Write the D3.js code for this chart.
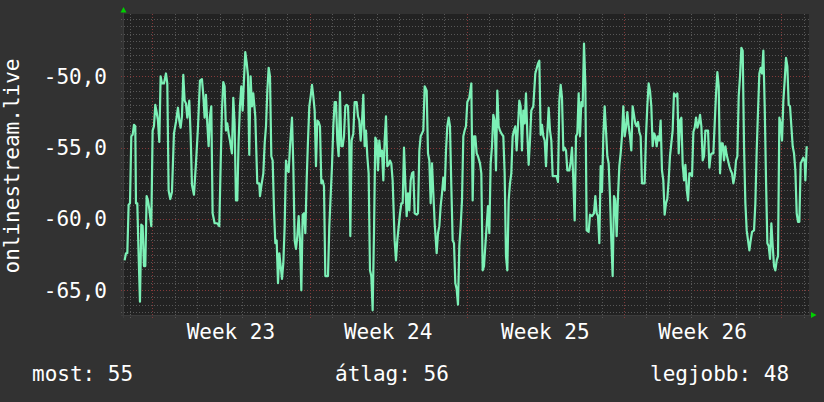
<!DOCTYPE html>
<html><head><meta charset="utf-8">
<script src="https://cdn.jsdelivr.net/npm/d3@7"></script>
<style>html,body{margin:0;padding:0;background:#323232;overflow:hidden}</style>
</head><body><svg id="c" width="824" height="402"></svg>
<script>
// hours since Monday 00:00 of week 23, signal level
const readings = [
[-29.56,-62.9],[-28.14,-62.4],[-26.71,-62.4],[-25.29,-59.0],[-23.86,-58.9],[-22.44,-54.2],[-21.01,-54.1],[-19.59,-53.4],[-18.17,-53.5],[-17.45,-58.9],[-16.03,-58.9],[-14.60,-62.6],[-13.18,-65.8],[-11.76,-60.4],[-10.33,-60.5],[-8.91,-63.3],[-7.48,-63.3],[-6.06,-58.4],[-4.63,-58.7],[-3.21,-59.3],[-1.07,-60.5],[0.35,-53.8],[1.78,-53.5],[3.20,-52.0],[4.62,-52.5],[6.05,-53.1],[7.47,-54.6],[8.90,-50.0],[10.32,-50.5],[12.46,-50.5],[14.60,-49.8],[16.02,-50.5],[17.44,-58.0],[19.22,-58.6],[21.01,-58.1],[23.14,-54.0],[25.28,-53.2],[27.41,-52.2],[28.84,-53.1],[30.26,-53.6],[31.69,-52.8],[33.11,-49.9],[34.54,-51.7],[35.96,-51.9],[37.39,-52.9],[39.52,-51.7],[40.95,-54.1],[42.37,-57.6],[44.51,-58.3],[46.64,-56.1],[48.78,-53.6],[50.92,-50.3],[53.05,-50.2],[54.48,-51.3],[55.90,-52.9],[57.33,-51.3],[58.75,-53.3],[60.18,-54.9],[61.60,-52.8],[63.02,-52.1],[64.45,-59.6],[66.59,-60.3],[69.43,-60.3],[71.57,-60.5],[73.00,-56.3],[74.42,-52.4],[75.84,-50.4],[77.27,-50.7],[78.69,-53.8],[80.12,-53.3],[81.54,-54.0],[82.97,-54.5],[85.10,-55.4],[86.53,-51.5],[87.95,-53.3],[89.38,-58.7],[90.80,-58.7],[92.23,-54.5],[93.65,-52.1],[95.07,-50.7],[96.50,-52.4],[97.92,-50.3],[99.35,-48.3],[100.77,-49.0],[102.20,-49.9],[103.62,-55.5],[105.04,-50.0],[106.47,-52.1],[107.89,-51.2],[110.03,-52.8],[112.17,-57.5],[114.30,-57.5],
[115.08,-58.4],[116.50,-57.7],[118.64,-56.8],[120.07,-54.7],[121.49,-53.5],[122.91,-51.0],[124.34,-49.4],[125.76,-50.0],[127.19,-55.6],[128.61,-55.9],[130.04,-59.4],[131.46,-61.7],[132.89,-61.5],[134.31,-64.5],[135.73,-62.4],[137.16,-63.3],[138.58,-64.2],[140.01,-63.1],[141.43,-60.5],[142.86,-55.9],[144.28,-56.6],[145.70,-56.7],[147.13,-54.9],[149.27,-52.9],[150.69,-56.3],[152.11,-61.5],[153.54,-62.1],[154.96,-61.2],[156.39,-59.8],[157.81,-61.5],[159.24,-65.0],[160.66,-59.7],[162.09,-59.6],[163.51,-61.0],[164.93,-57.3],[166.36,-54.5],[167.78,-52.1],[169.21,-51.4],[170.63,-50.6],[172.06,-51.4],[173.48,-52.4],[174.90,-56.3],[176.33,-53.1],[177.75,-53.2],[179.18,-53.5],[180.60,-57.5],[182.03,-57.3],[183.45,-57.7],[184.88,-64.0],[187.72,-64.0],[189.15,-60.5],[190.57,-58.4],[192.00,-56.3],[193.42,-53.5],[194.85,-51.8],[196.27,-51.8],[197.70,-54.5],[199.12,-55.6],[200.54,-51.1],[201.97,-54.9],[203.39,-54.9],[204.82,-54.2],[206.24,-52.1],[207.67,-52.0],[209.09,-52.1],[210.51,-54.7],[211.58,-61.2],[213.01,-54.5],[214.79,-54.0],[216.21,-51.8],[218.35,-51.8],[219.77,-52.8],[221.20,-53.1],[222.62,-54.5],[224.05,-53.2],[225.47,-51.3],[226.90,-54.9],[228.32,-53.8],[229.74,-55.6],[231.17,-56.8],[232.59,-63.6],[234.02,-64.0],[235.44,-66.4],[236.87,-61.0],[238.29,-54.3],[239.72,-54.5],[241.14,-56.6],[242.56,-54.5],[243.99,-55.6],[245.41,-55.2],[246.84,-57.3],[248.26,-54.5],[249.69,-52.8],[251.11,-56.3],[252.53,-56.2],[253.96,-55.9],[255.38,-56.1],[256.81,-57.3],[258.94,-61.5],[260.37,-62.9],[261.79,-61.5],
[264.68,-59.6],[266.10,-58.9],[267.53,-58.9],[268.95,-55.0],[270.37,-57.5],[271.80,-59.8],[273.22,-58.2],[274.65,-59.4],[276.07,-57.3],[277.50,-56.8],[278.92,-56.7],[280.35,-59.6],[282.48,-59.7],[283.91,-59.6],[285.33,-55.2],[286.75,-54.2],[288.18,-54.0],[289.60,-53.8],[291.03,-50.7],[293.17,-51.0],[294.59,-55.4],[296.01,-55.9],[297.44,-58.9],[298.86,-56.1],[300.29,-58.2],[301.71,-60.3],[303.85,-62.4],[305.27,-61.0],[306.70,-60.5],[308.12,-59.1],[309.55,-58.2],[310.97,-57.1],[312.39,-58.0],[313.82,-55.2],[315.24,-53.5],[316.67,-52.9],[318.09,-53.5],[319.52,-57.7],[320.94,-61.5],[322.36,-61.7],[323.79,-64.5],[325.21,-64.9],[326.64,-66.0],[328.06,-61.9],[329.49,-60.5],[330.91,-58.7],[332.34,-54.2],[333.76,-53.8],[335.18,-53.5],[336.61,-51.8],[338.74,-51.5],[340.88,-50.5],[342.31,-58.7],[343.73,-54.2],[345.16,-54.2],[346.58,-55.4],[348.00,-55.6],[350.14,-56.1],[351.57,-56.8],[352.99,-63.6],[354.41,-63.3],[355.84,-61.9],[357.26,-60.5],[358.69,-59.1],[360.11,-61.0],[361.54,-56.1],[362.96,-54.9],[364.38,-52.7],[365.81,-53.1],[367.23,-56.6],[368.66,-51.0],[370.08,-53.5],[371.51,-53.8],[372.93,-54.0],[375.07,-54.2],[376.49,-56.8],[377.92,-62.6],[379.34,-63.6],[380.77,-58.7],[382.19,-57.5],[383.61,-56.8],[385.04,-54.2],[386.46,-53.8],[387.89,-53.5],[389.31,-55.2],[390.74,-53.5],[392.16,-51.7],[393.58,-52.1],[395.01,-55.2],[396.43,-52.4],[397.86,-53.3],[399.28,-51.2],[400.71,-54.0],[402.13,-56.2],[403.56,-54.5],[404.98,-52.4],[407.12,-52.1],[409.25,-49.8],
[412.14,-49.1],[413.56,-48.9],[414.99,-54.1],[416.41,-53.4],[417.83,-54.2],[419.26,-54.5],[420.68,-56.3],[422.11,-54.0],[423.53,-52.2],[424.96,-53.8],[426.38,-54.5],[427.81,-57.0],[429.94,-57.0],[432.08,-57.0],[433.50,-57.4],[434.93,-51.7],[436.35,-50.6],[437.78,-51.5],[439.20,-55.2],[440.62,-55.0],[442.05,-55.2],[443.47,-56.6],[445.61,-56.6],[447.03,-56.0],[448.46,-55.0],[449.88,-57.3],[451.31,-60.1],[452.73,-54.2],[454.16,-54.0],[455.58,-51.2],[457.01,-54.2],[458.43,-51.8],[459.85,-52.1],[461.28,-47.7],[462.70,-50.5],[464.13,-60.8],[466.26,-60.9],[467.69,-59.7],[469.82,-59.8],[471.96,-59.6],[473.39,-58.4],[474.81,-59.6],[476.23,-59.8],[477.66,-61.7],[479.08,-56.3],[480.51,-58.1],[481.93,-54.2],[483.36,-52.1],[484.78,-53.8],[486.21,-55.6],[487.63,-56.1],[489.05,-58.4],[490.48,-61.5],[491.90,-64.0],[493.33,-58.4],[494.75,-58.7],[496.18,-61.2],[497.60,-58.4],[499.03,-56.3],[500.45,-55.4],[501.87,-54.2],[503.30,-52.1],[504.72,-54.2],[506.15,-53.6],[507.57,-52.5],[509.00,-53.5],[510.42,-54.2],[511.84,-55.2],[513.27,-52.1],[514.69,-52.7],[516.12,-53.3],[517.54,-53.5],[518.97,-53.2],[520.39,-53.9],[521.82,-54.2],[523.24,-57.5],[526.09,-57.5],[527.51,-54.2],[528.94,-52.1],[530.36,-50.5],[531.79,-51.0],[533.21,-52.1],[534.64,-54.9],[536.06,-54.0],[537.48,-54.2],[538.91,-54.9],[540.33,-54.2],[541.76,-54.5],[543.18,-53.1],[544.61,-56.6],[546.03,-57.3],[547.45,-59.7],[548.88,-58.9],[550.30,-58.6],[551.73,-57.3],[553.15,-55.6],[554.58,-54.7],[556.00,-53.8],[557.42,-51.2],
[559.64,-51.4],[561.06,-51.2],[562.49,-55.4],[563.91,-53.1],[565.33,-52.9],[566.76,-56.2],[568.18,-57.3],[569.61,-56.2],[571.03,-57.9],[572.46,-58.7],[573.88,-56.8],[575.31,-56.8],[576.73,-57.0],[578.15,-53.9],[579.58,-53.6],[581.00,-52.9],[582.43,-53.6],[583.85,-53.3],[585.28,-52.7],[586.70,-53.5],[588.12,-55.9],[589.55,-55.6],[590.97,-53.8],[592.40,-53.8],[593.82,-53.8],[595.25,-56.4],[596.67,-55.5],[598.10,-55.4],[599.52,-55.4],[600.94,-53.3],[602.37,-51.2],[603.79,-49.7],[605.22,-50.7],[606.64,-56.8],[608.07,-54.7],[609.49,-54.7],[610.92,-55.9],[612.34,-54.9],[613.76,-55.5],[615.19,-55.9],[616.61,-56.3],[618.04,-56.6],[619.46,-56.8],[620.89,-57.5],[622.31,-57.0],[623.73,-55.9],[625.16,-55.6],[626.58,-51.4],[628.01,-50.0],[629.43,-48.0],[630.86,-48.2],[632.28,-54.9],[633.71,-58.9],[635.13,-60.8],[636.55,-61.5],[637.98,-62.2],[639.40,-61.5],[640.83,-60.9],[642.96,-60.8],[644.39,-58.9],[645.81,-55.2],[647.24,-52.4],[648.66,-49.8],[650.09,-49.4],[651.51,-49.8],[652.93,-48.2],[654.36,-52.1],[655.78,-57.3],[657.21,-61.7],[658.63,-61.9],[660.06,-62.8],[661.48,-60.3],[662.91,-61.9],[664.33,-63.3],[665.75,-63.6],[667.18,-62.9],[668.60,-62.6],[670.03,-52.9],[671.45,-53.3],[672.88,-54.5],[674.30,-51.7],[675.73,-50.3],[677.15,-48.7],[678.57,-49.3],[680.00,-52.0],[681.42,-52.1],[682.85,-53.5],[684.27,-54.9],[685.70,-55.4],[687.12,-56.6],[688.54,-59.6],[689.97,-60.2],[691.39,-60.2],[692.82,-56.1],[694.24,-55.9],[695.67,-55.7],[697.09,-56.0],[697.80,-57.3],[699.23,-54.9]
];
const timeDomain = [-30.24, 701.7];
const valueDomain = [-66.73, -45.63];
const yTickValues = [-65, -60, -55, -50];
const weekLabels = ["Week 23", "Week 24", "Week 25", "Week 26"];
const weekStartHours = [0, 168, 336, 504];
const legendLabels = ["most", "átlag", "legjobb"];
const legendValues = [55, 56, 48];
const axisTitle = "onlinestream.live";

const svg = d3.select("#c");
const L = 124, R = 809, T = 14, B = 315;
const FONT = "'DejaVu Sans Mono', monospace";
const x = d3.scaleLinear().domain(timeDomain).range([L, R]);
const y = d3.scaleLinear().domain(valueDomain).range([B, T]);
const loc = d3.formatLocale({decimal: ",", thousands: ".", grouping: [3], currency: ["", ""], minus: "-"});
const fmt = loc.format(".1f");

svg.append("rect").attr("width", 824).attr("height", 402).attr("fill", "#323232");
svg.append("rect").attr("x", L).attr("y", T).attr("width", R - L).attr("height", B - T).attr("fill", "#222222");

const grid = svg.append("g").attr("shape-rendering", "crispEdges");
const hVals = d3.range(-134, -90).map(k => k / 2).filter(v => y(v) > T && y(v) < B);
hVals.forEach(v => {
  const major = v % 5 === 0;
  const yy = Math.round(y(v)) + 0.5;
  grid.append("line").attr("x1", L - 3).attr("x2", R).attr("y1", yy).attr("y2", yy)
    .attr("stroke", major ? "#843a3a" : "#575757").attr("stroke-width", 1)
    .attr("stroke-dasharray", "1,2");
});
const dayHours = d3.range(-24, timeDomain[1], 24);
dayHours.forEach(h => {
  const major = h % 168 === 0;
  const xx = Math.round(x(h)) + 0.5;
  grid.append("line").attr("x1", xx).attr("x2", xx).attr("y1", T).attr("y2", B + 3)
    .attr("stroke", major ? "#843a3a" : "#575757").attr("stroke-width", 1)
    .attr("stroke-dasharray", "1,2");
});
grid.append("line").attr("x1", L - 0.5).attr("x2", L - 0.5).attr("y1", T - 2).attr("y2", B + 3).attr("stroke", "#3c3c3c");
grid.append("line").attr("x1", L - 3).attr("x2", R + 2).attr("y1", B + 0.5).attr("y2", B + 0.5).attr("stroke", "#3c3c3c");

const line = d3.line().x(d => x(d[0])).y(d => y(d[1]));
svg.append("path").datum(readings).attr("d", line).attr("fill", "none")
  .attr("stroke", "#7cf0b6").attr("stroke-width", 2.2).attr("stroke-linejoin", "round");

svg.append("path").attr("d", `M${L - 3.5},${T - 1.5}L${L + 2.5},${T - 1.5}L${L - 0.5},${T - 7}Z`).attr("fill", "#00d000");
svg.append("path").attr("d", `M${R + 2},${B - 3}L${R + 2},${B + 3}L${R + 7.5},${B}Z`).attr("fill", "#00d000");

svg.append("g").selectAll("text").data(yTickValues).join("text")
  .attr("x", 107).attr("y", d => y(d) + 7.5).attr("text-anchor", "end")
  .attr("font-family", FONT).attr("font-size", 21).attr("fill", "#ffffff").text(d => fmt(d));

svg.append("g").selectAll("text").data(weekLabels).join("text")
  .attr("x", (d, i) => x(weekStartHours[i] + 84)).attr("y", 338.5).attr("text-anchor", "middle")
  .attr("font-family", FONT).attr("font-size", 21).attr("fill", "#ffffff")
  .attr("xml:space", "preserve").style("white-space", "pre").text(d => d);

svg.append("text").attr("transform", "translate(19,166) rotate(-90)").attr("text-anchor", "middle")
  .attr("font-family", FONT).attr("font-size", 21).attr("fill", "#ffffff").text(axisTitle);

const legendX = [32, 335, 650];
svg.append("g").selectAll("text").data(legendLabels).join("text")
  .attr("x", (d, i) => legendX[i]).attr("y", 381)
  .attr("font-family", FONT).attr("font-size", 21).attr("fill", "#ffffff")
  .text((d, i) => `${d}: ${legendValues[i]}`);
</script></body></html>
